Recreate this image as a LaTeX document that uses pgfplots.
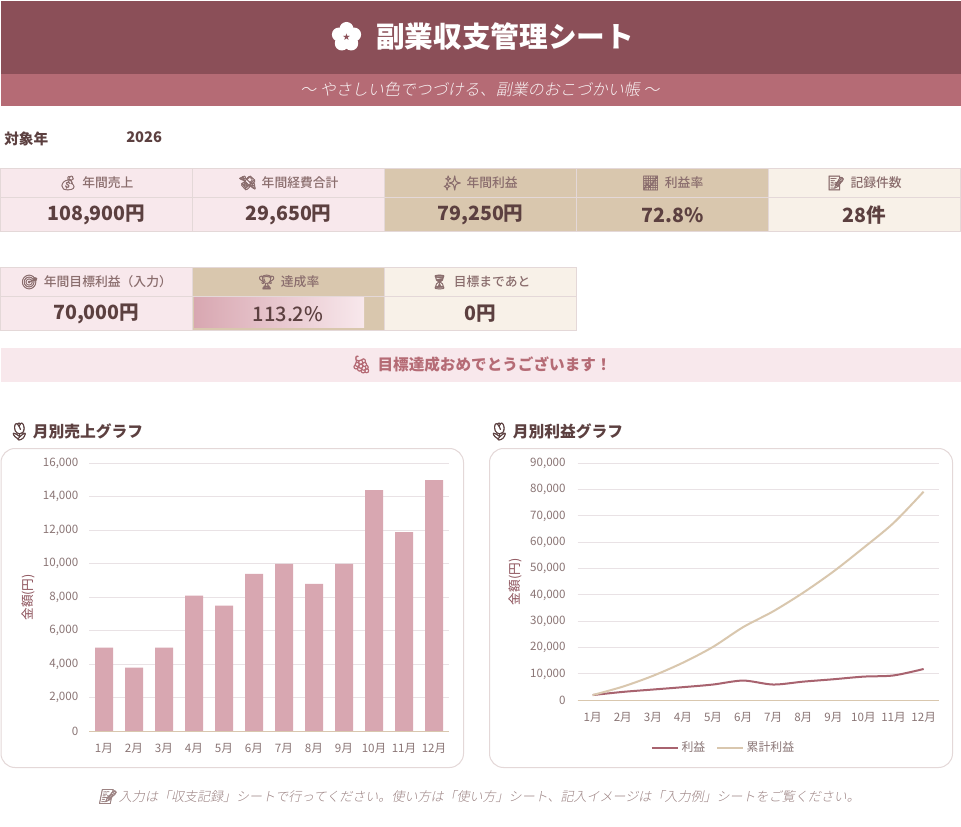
\documentclass[border=0pt]{standalone}
\usepackage{pgfplots}
\pgfplotsset{compat=1.18}
\usepackage{fontspec}
\setmainfont{Noto Sans CJK JP}
\newfontfamily\med{Noto Sans CJK JP Medium}
\newfontfamily\lightf{Noto Sans CJK JP Light}
\newfontfamily\emoji[FakeBold=2.2,Scale=1.1]{Noto Emoji}
\newfontfamily\sym{DejaVu Sans}
\definecolor{hdr}{HTML}{8B4F58}
\definecolor{sub}{HTML}{B56B75}
\definecolor{pk}{HTML}{F8E8EC}
\definecolor{tan}{HTML}{D9C7AE}
\definecolor{crm}{HTML}{F8F1E8}
\definecolor{txt}{HTML}{5C4040}
\definecolor{lab}{HTML}{8A6D6D}
\definecolor{bd}{HTML}{E4D8D8}
\definecolor{barc}{HTML}{D8A7B1}
\definecolor{gridc}{HTML}{E9E2E5}
\definecolor{base}{HTML}{D9C7AE}
\definecolor{tickc}{HTML}{8A7575}
\definecolor{lineone}{HTML}{A8636F}
\newcommand{\cell}[9]{% x0 y0 x1 y1 y2 fill label value weight
  \fill[#6] (#1,#2) rectangle (#3,#5);
  \draw[bd,line width=0.75pt] (#1,#2) rectangle (#3,#4) (#1,#4) rectangle (#3,#5);
  \node[text=lab,font=\fontsize{9.6pt}{11pt}\med\selectfont,inner sep=0] at ({(#1+#3)/2},{(#2+#4)/2}) {#7};
  \node[text=txt,font=\fontsize{14.7pt}{17pt}#9\selectfont,inner sep=0] at ({(#1+#3)/2},{(#4+#5)/2+0.5}) {#8};
}
\begin{document}
\begin{tikzpicture}[x=0.75pt,y=-0.75pt]
\path[use as bounding box] (0,0) rectangle (961,827);
\fill[white] (0,0) rectangle (961,827);
\fill[hdr] (1,1) rectangle (961,74);
\fill[sub] (1,74) rectangle (961,106);
% title flower icon
\foreach \a in {90,162,234,306,378} {
  \fill[white] ({346.5+8*cos(\a)},{37-8*sin(\a)}) circle[radius=7];
}
\fill[white] (346.5,37) circle[radius=6];
\node[text=hdr,font=\fontsize{7pt}{8pt}\sym\selectfont,inner sep=0] at (346.5,37) {★};
\node[text=white,font=\fontsize{21.5pt}{24pt}\bfseries\selectfont,inner sep=0] at (505,36) {副業収支管理シート};
\node[text=white!92!sub,font=\fontsize{12pt}{14pt}\lightf\selectfont,inner sep=0,xslant=0.2] at (481,89) {〜 やさしい色でつづける、副業のおこづかい帳 〜};
\node[text=txt,anchor=west,font=\fontsize{11pt}{13pt}\bfseries\selectfont,inner sep=0] at (4,139) {対象年};
\node[text=txt,anchor=west,font=\fontsize{11pt}{13pt}\bfseries\selectfont,inner sep=0] at (126,137.5) {2026};
\cell{0}{168.5}{192.5}{197.5}{231.5}{pk}{{\emoji 💰}\hspace{4pt}年間売上}{108,900円}{\bfseries}
\cell{192.5}{168.5}{384.5}{197.5}{231.5}{pk}{{\emoji 💸}\hspace{4pt}年間経費合計}{29,650円}{\bfseries}
\cell{384.5}{168.5}{576.5}{197.5}{231.5}{tan}{{\emoji ✨}\hspace{4pt}年間利益}{79,250円}{\bfseries}
\cell{576.5}{168.5}{768.5}{197.5}{231.5}{tan}{{\emoji 📈}\hspace{4pt}利益率}{72.8\%}{\bfseries}
\cell{768.5}{168.5}{960.5}{197.5}{231.5}{crm}{{\emoji 📝}\hspace{4pt}記録件数}{28件}{\bfseries}
\cell{0}{267.5}{192.5}{296.5}{330.5}{pk}{{\emoji 🎯}\hspace{4pt}年間目標利益（入力）}{70,000円}{\bfseries}
\cell{192.5}{267.5}{384.5}{296.5}{330.5}{tan}{{\emoji 🏆}\hspace{4pt}達成率}{}{\med}
\cell{384.5}{267.5}{576.5}{296.5}{330.5}{crm}{{\emoji ⏳}\hspace{4pt}目標まであと}{0円}{\bfseries}
\shade[left color=barc,right color=pk] (194,298) rectangle (364,328);
\node[text=txt,font=\fontsize{15pt}{17pt}\med\selectfont,inner sep=0] at (288,314) {113.2\%};
\fill[pk] (1,348) rectangle (961,382);
\node[text=sub,font=\fontsize{11.7pt}{13pt}\bfseries\selectfont,inner sep=0] at (481,364.5) {{\emoji 🍇}\hspace{4pt}目標達成おめでとうございます！};
\node[text=txt,anchor=west,font=\fontsize{11.8pt}{13pt}\bfseries\selectfont,inner sep=0] at (8,431.5) {{\emoji 🌷}\hspace{2pt}月別売上グラフ};
\node[text=txt,anchor=west,font=\fontsize{11.8pt}{13pt}\bfseries\selectfont,inner sep=0] at (488,431.5) {{\emoji 🌷}\hspace{2pt}月別利益グラフ};
\draw[bd,fill=white,line width=0.75pt,rounded corners=10.5pt] (1,448.5) rectangle (463.5,767.5);
\draw[bd,fill=white,line width=0.75pt,rounded corners=10.5pt] (489.5,448.5) rectangle (952.5,767.5);
\node[text=lab!85!white,font=\fontsize{9.77pt}{11pt}\lightf\selectfont,inner sep=0,xslant=0.2] at (480,796.5) {{\emoji 📝}\hspace{2pt}入力は「収支記録」シートで行ってください。使い方は「使い方」シート、記入イメージは「入力例」シートをご覧ください。};
\pgfplotsset{chart/.style={
  scale only axis, anchor=north west,
  xmin=0.5,xmax=12.5,xtick={1,...,12},
  xticklabels={1月,2月,3月,4月,5月,6月,7月,8月,9月,10月,11月,12月},
  axis line style={draw=none},
  axis x line*=bottom, axis y line*=left,
  tick style={draw=none},
  ymajorgrids, grid style={gridc,line width=0.75pt},
  every tick label/.append style={text=tickc,font=\fontsize{8.7pt}{10pt}\selectfont},
  /pgf/number format/assume math mode=true,
  /pgf/number format/.cd,1000 sep={,},
  /pgfplots/.cd,
  scaled y ticks=false,
  ylabel={金額(円)},
  ylabel style={text=hdr,font=\fontsize{9.5pt}{10pt}\selectfont},
  xticklabel style={yshift=-5.75pt},
  clip=false,
}}
\begin{axis}[chart,at={(66.75pt,-347.5pt)},width=270pt,height=201pt,
  ymin=0,ymax=16000,ytick={0,2000,...,16000},
  yticklabel style={xshift=-4.5pt},
  ylabel style={at={(axis description cs:-0.137,0.5)},anchor=south},
  ]
\addplot[ybar,bar width=13.5pt,fill=barc,draw=none] coordinates {
(1,5000)(2,3800)(3,5000)(4,8100)(5,7500)(6,9400)(7,10000)(8,8800)(9,10000)(10,14400)(11,11900)(12,15000)};
\draw[base,line width=0.75pt] (axis cs:0.5,0) -- (axis cs:12.5,0);
\end{axis}
\begin{axis}[chart,at={(433.25pt,-347.5pt)},width=270.75pt,height=177.75pt,
  ymin=0,ymax=90000,ytick={0,10000,...,90000},
  yticklabel style={xshift=-5.5pt},
  ylabel style={at={(axis description cs:-0.14,0.5)},anchor=south},
  legend style={at={(0.405,-0.2)},anchor=center,draw=none,fill=none,legend columns=2,
    font=\fontsize{8.9pt}{10pt}\selectfont,text=tickc,
    /tikz/every even column/.append style={column sep=6pt}},
  legend cell align=left,
  legend image code/.code={\draw[#1] (0pt,0pt) -- (19.5pt,0pt);},
  ]
\addplot[color=lineone,line width=1.5pt,smooth,tension=0.5] coordinates {
(1,2000)(2,3200)(3,4100)(4,5000)(5,6000)(6,7500)(7,6000)(8,7100)(9,8000)(10,9000)(11,9450)(12,11900)};
\addplot[color=tan,line width=1.5pt,smooth,tension=0.5] coordinates {
(1,2000)(2,5200)(3,9300)(4,14300)(5,20300)(6,27800)(7,33800)(8,40900)(9,48900)(10,57900)(11,67350)(12,79250)};
\legend{利益,累計利益}
\draw[base,line width=0.75pt] (axis cs:0.5,0) -- (axis cs:12.5,0);
\end{axis}
\end{tikzpicture}
\end{document}
